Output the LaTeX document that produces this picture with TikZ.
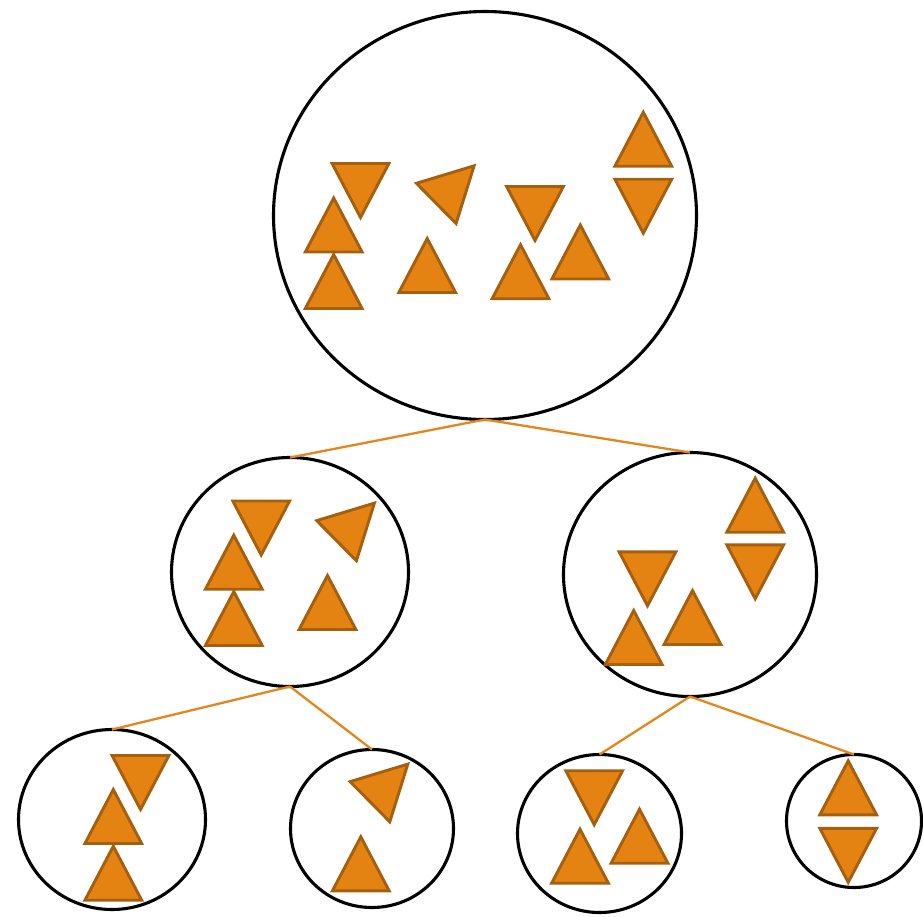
\documentclass[tikz,border=0pt]{standalone}
\usetikzlibrary{shapes.geometric}
\definecolor{trifill}{HTML}{E48312}
\definecolor{triline}{HTML}{A5600F}
\definecolor{conn}{HTML}{E3861C}
\tikzset{
  tri/.style={fill=trifill, draw=triline, line width=2.9pt},
  grp/.style={draw=black, line width=3.1pt, shape=ellipse, inner sep=0pt, outer sep=0pt},
  link/.style={draw=conn, line width=2.3pt},
  upt/.pic={\path[tri] (0,-27) -- (28.4,27) -- (-28.4,27) -- cycle;},
  dnt/.pic={\path[tri] (-28.4,-27) -- (28.4,-27) -- (0,27) -- cycle;},
  rott/.pic={\path[tri] (-32.5,-7.6) -- (25.2,-25.1) -- (7.2,32.6) -- cycle;}
}
\begin{document}
\begin{tikzpicture}[x=1pt,y=-1pt]
\useasboundingbox (0,0) rectangle (923,916);
% groups
\node[grp, minimum width=423pt, minimum height=408pt] (top) at (485,215.5) {};
\node[grp, minimum width=237pt, minimum height=229pt] (ml) at (290,572) {};
\node[grp, minimum width=253pt, minimum height=244pt] (mr) at (690,574.5) {};
\node[grp, minimum width=187pt, minimum height=180pt] (b1) at (112,819.5) {};
\node[grp, minimum width=163pt, minimum height=158pt] (b2) at (372,828.5) {};
\node[grp, minimum width=164pt, minimum height=158pt] (b3) at (599.5,833.5) {};
\node[grp, minimum width=135pt, minimum height=133pt] (b4) at (854,821) {};
% connectors
\draw[link] (top.south) -- (ml.north);
\draw[link] (top.south) -- (mr.north);
\draw[link] (ml.south) -- (b1.north);
\draw[link] (ml.south) -- (b2.north);
\draw[link] (mr.south) -- (b3.north);
\draw[link] (mr.south) -- (b4.north);
% top group
\pic at (360.5,190.5) {dnt};
\pic at (333.7,225) {upt};
\pic at (333.7,281.5) {upt};
\pic at (448.9,190.9) {rott};
\pic at (427.2,265.5) {upt};
\pic at (535,213.5) {dnt};
\pic at (520.5,271.7) {upt};
\pic at (580.3,252) {upt};
\pic at (643.3,139.2) {upt};
\pic at (643.3,206.2) {dnt};
% middle left
\pic at (261.2,528) {dnt};
\pic at (233.8,562.2) {upt};
\pic at (233.8,618.5) {upt};
\pic at (349.2,528.2) {rott};
\pic at (327.5,602.5) {upt};
% middle right
\pic at (755.2,505.2) {upt};
\pic at (755.2,571.8) {dnt};
\pic at (647.5,578.8) {dnt};
\pic at (692.5,617.5) {upt};
\pic at (633.7,637.5) {upt};
% bottom 1
\pic at (140.5,782.5) {dnt};
\pic at (113.3,816.5) {upt};
\pic at (113.3,873.2) {upt};
% bottom 2
\pic at (382.6,789.2) {rott};
\pic at (360.8,863.8) {upt};
% bottom 3
\pic at (594.2,797.7) {dnt};
\pic at (580,856.2) {upt};
\pic at (639.5,836.2) {upt};
% bottom 4
\pic at (848.2,787.8) {upt};
\pic at (848.2,855.3) {dnt};
\end{tikzpicture}
\end{document}
